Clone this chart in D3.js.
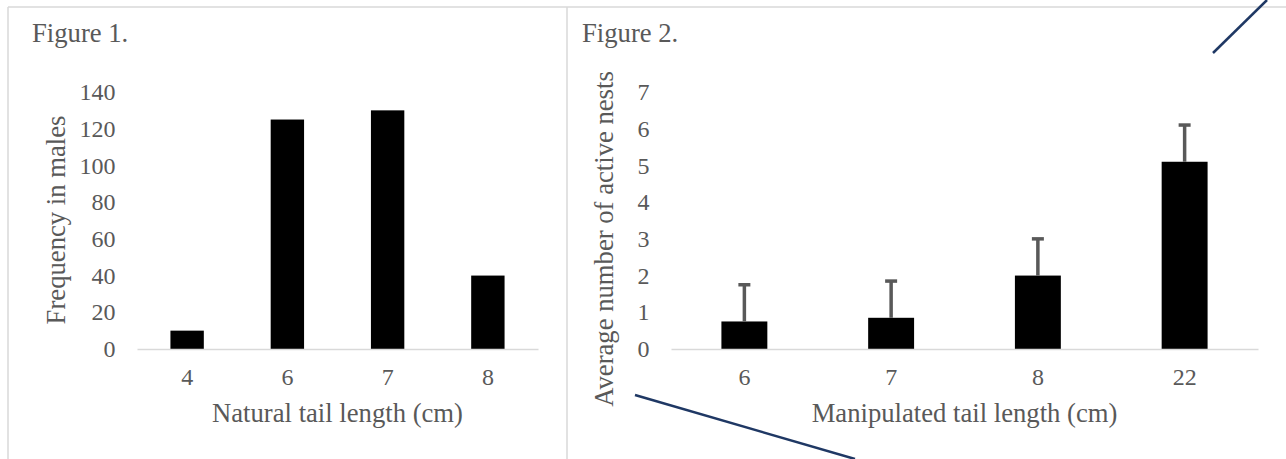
<!DOCTYPE html>
<html>
<head>
<meta charset="utf-8">
<script src="https://cdn.jsdelivr.net/npm/d3@7"></script>
<style>
  html, body { margin: 0; padding: 0; background: #ffffff; }
  svg { display: block; }
  text { font-family: "Liberation Serif", "Times New Roman", serif; fill: #595959; }
</style>
</head>
<body>
<svg id="chart" width="1286" height="459"></svg>
<script>
// ---- Data ----
const fig1Title = "Figure 1.";
const fig1Categories = ["4", "6", "7", "8"];
const fig1Values = [10, 125, 130, 40];
const fig1Ticks = [0, 20, 40, 60, 80, 100, 120, 140];
const fig1XTitle = "Natural tail length (cm)";
const fig1YTitle = "Frequency in males";

const fig2Title = "Figure 2.";
const fig2Categories = ["6", "7", "8", "22"];
const fig2Values = [0.75, 0.85, 2, 5.1];
const fig2Errors = [1, 1, 1, 1];
const fig2Ticks = [0, 1, 2, 3, 4, 5, 6, 7];
const fig2XTitle = "Manipulated tail length (cm)";
const fig2YTitle = "Average number of active nests";

// ---- Drawing ----
const svg = d3.select("#chart");
const borderColor = "#d9d9d9";
const textColor = "#595959";

// panel borders
svg.append("line").attr("x1", 8).attr("x2", 1286).attr("y1", 7).attr("y2", 7)
  .attr("stroke", borderColor).attr("stroke-width", 1.5);
svg.append("line").attr("x1", 8).attr("x2", 8).attr("y1", 7).attr("y2", 459)
  .attr("stroke", borderColor).attr("stroke-width", 1.5);
svg.append("line").attr("x1", 567).attr("x2", 567).attr("y1", 7).attr("y2", 459)
  .attr("stroke", borderColor).attr("stroke-width", 1.5);

function panel(cfg) {
  const g = svg.append("g");
  const x = d3.scaleBand().domain(cfg.categories).range(cfg.xRange)
    .paddingInner(cfg.padInner).paddingOuter(cfg.padInner / 2);
  const y = d3.scaleLinear().domain([0, cfg.yMax]).range(cfg.yRange);

  // title
  g.append("text").attr("x", cfg.titleX).attr("y", 42)
    .attr("font-size", 26.67).text(cfg.title);

  // y axis labels
  const ya = g.append("g").attr("transform", `translate(${cfg.xRange[0]},0)`)
    .call(d3.axisLeft(y).tickValues(cfg.ticks).tickSize(0).tickPadding(21.5).tickFormat(d3.format("d")));
  ya.select(".domain").remove();
  ya.selectAll("text").attr("font-size", 24).attr("font-family", "Liberation Serif").attr("fill", textColor);

  // bars
  g.selectAll("rect.bar").data(cfg.values).join("rect")
    .attr("class", "bar")
    .attr("x", (d, i) => x(cfg.categories[i]))
    .attr("width", x.bandwidth())
    .attr("y", d => y(d))
    .attr("height", d => y(0) - y(d))
    .attr("fill", "#000000");

  // x axis
  const xa = g.append("g").attr("transform", `translate(0,${y(0)})`)
    .call(d3.axisBottom(x).tickSize(0).tickSizeOuter(0).tickPadding(19));
  xa.select(".domain").attr("stroke", borderColor).attr("stroke-width", 1.5);
  xa.selectAll("text").attr("font-size", 24).attr("font-family", "Liberation Serif").attr("fill", textColor);

  // error bars
  if (cfg.errors) {
    const eb = g.append("g");
    cfg.values.forEach((v, i) => {
      const cx = x(cfg.categories[i]) + x.bandwidth() / 2;
      eb.append("line").attr("x1", cx).attr("x2", cx)
        .attr("y1", y(v)).attr("y2", y(v + cfg.errors[i]))
        .attr("stroke", "#595959").attr("stroke-width", 3.5);
      eb.append("line").attr("x1", cx - 6).attr("x2", cx + 6)
        .attr("y1", y(v + cfg.errors[i])).attr("y2", y(v + cfg.errors[i]))
        .attr("stroke", "#595959").attr("stroke-width", 3.5);
    });
  }

  // axis titles
  g.append("text")
    .attr("x", (cfg.xRange[0] + cfg.xRange[1]) / 2).attr("y", 422)
    .attr("text-anchor", "middle").attr("font-size", 26.67).text(cfg.xTitle);
  g.append("text")
    .attr("transform", `translate(${cfg.yTitleX},${cfg.yTitleY}) rotate(-90)`)
    .attr("text-anchor", "middle").attr("font-size", 26.67).text(cfg.yTitle);
}

panel({
  title: fig1Title, titleX: 32,
  categories: fig1Categories, values: fig1Values, ticks: fig1Ticks, yMax: 140,
  xRange: [137, 538], yRange: [349, 92], padInner: 0.667,
  xTitle: fig1XTitle, yTitle: fig1YTitle, yTitleX: 65, yTitleY: 220
});

panel({
  title: fig2Title, titleX: 582,
  categories: fig2Categories, values: fig2Values, errors: fig2Errors, ticks: fig2Ticks, yMax: 7,
  xRange: [671, 1258], yRange: [349, 92], padInner: 0.687,
  xTitle: fig2XTitle, yTitle: fig2YTitle, yTitleX: 613, yTitleY: 239
});

// annotation strokes
svg.append("line").attr("x1", 1213).attr("y1", 53).attr("x2", 1267).attr("y2", 0)
  .attr("stroke", "#1f3864").attr("stroke-width", 2.5);
svg.append("line").attr("x1", 635).attr("y1", 395).attr("x2", 855).attr("y2", 459)
  .attr("stroke", "#1f3864").attr("stroke-width", 2.5);
</script>
</body>
</html>
